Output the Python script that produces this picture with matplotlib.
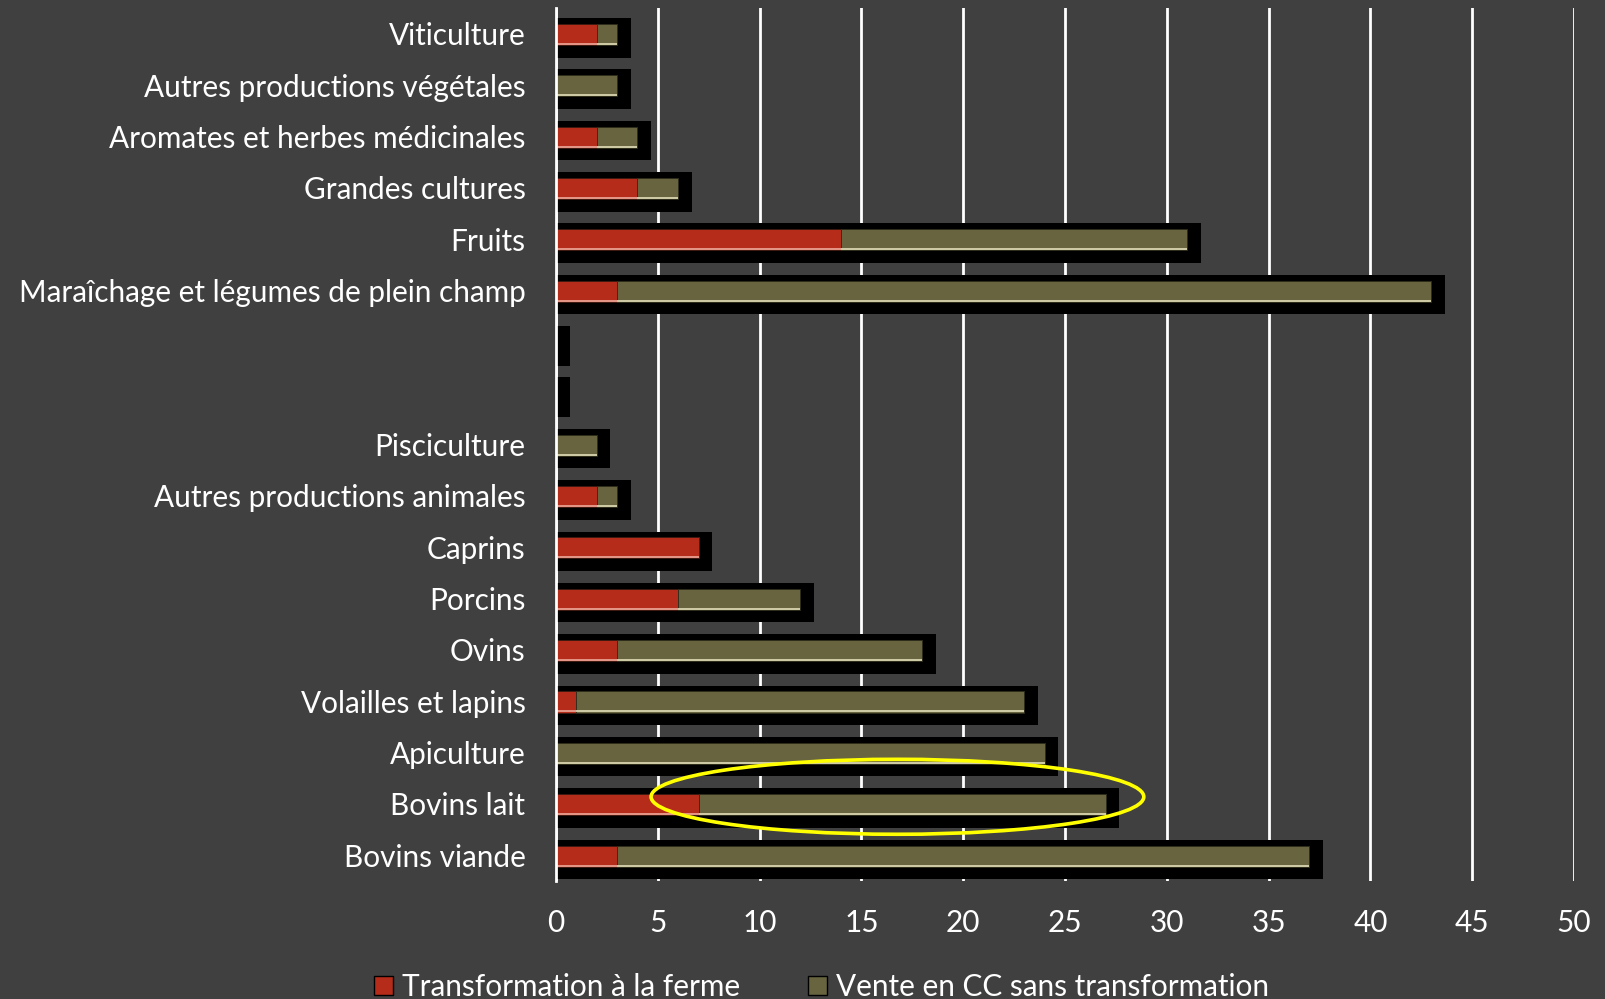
import matplotlib
matplotlib.use("Agg")
import matplotlib.pyplot as plt
from matplotlib.patches import Ellipse

# categories, top to bottom (two empty rows between the groups)
categories = ["Viticulture", "Autres productions végétales", "Aromates et herbes médicinales",
              "Grandes cultures", "Fruits", "Maraîchage et légumes de plein champ", "", "",
              "Pisciculture", "Autres productions animales", "Caprins", "Porcins", "Ovins",
              "Volailles et lapins", "Apiculture", "Bovins lait", "Bovins viande"]
transformation = [2, 0, 2, 4, 14, 3, 0, 0, 0, 2, 7, 6, 3, 1, 0, 7, 3]
vente_cc = [1, 3, 2, 2, 17, 40, 0, 0, 2, 1, 0, 6, 15, 22, 24, 20, 34]
xticks = [0, 5, 10, 15, 20, 25, 30, 35, 40, 45, 50]
series_names = ["Transformation à la ferme", "Vente en CC sans transformation"]

BG = "#404040"
RED = "#b52c1a"
OLIVE = "#67643f"
FS = 21.4

plt.rcParams["font.family"] = ["Lato", "DejaVu Sans"]

fig = plt.figure(figsize=(16.06, 9.99), dpi=100, facecolor=BG)
ax = fig.add_axes([556 / 1606, 1 - 881 / 999, (1574 - 556) / 1606, (881 - 8) / 999])
ax.set_facecolor(BG)

y = list(range(len(categories)))
totals = [a + b for a, b in zip(transformation, vente_cc)]

# black shadow bars behind the series
ax.barh([v + 0.08 for v in y], [t + 0.67 for t in totals], height=0.77,
        color="black", zorder=2)

h = 0.41
yc = [v + 0.014 for v in y]
b1 = ax.barh(yc, transformation, height=h, color=RED, edgecolor="#3a1a10",
             linewidth=0.6, zorder=3, label=series_names[0])
b2 = ax.barh(yc, vente_cc, left=transformation, height=h, color=OLIVE,
             edgecolor="#2e2d1c", linewidth=0.6, zorder=3, label=series_names[1])

# light lower edge on each segment
for yy, t, v in zip(yc, transformation, vente_cc):
    if t > 0:
        ax.hlines(yy + h / 2 - 0.02, 0, t, color="#e8a090", lw=1.3, zorder=4)
    if v > 0:
        ax.hlines(yy + h / 2 - 0.02, t, t + v, color="#d8d4b0", lw=1.3, zorder=4)

ax.set_xlim(0, 50)
ax.set_ylim(len(categories) - 0.5, -0.5)
ax.set_xticks(xticks)
ax.set_yticks(y)
ax.set_yticklabels(categories)
ax.xaxis.grid(True, color="white", lw=2, zorder=0)
ax.set_axisbelow(True)
ax.tick_params(axis="both", length=0, colors="white", labelsize=FS)
ax.tick_params(axis="y", pad=22)
ax.tick_params(axis="x", pad=20)
for s in ["top", "right", "bottom"]:
    ax.spines[s].set_visible(False)
ax.spines["left"].set_color("white")
ax.spines["left"].set_linewidth(2)
ax.spines["left"].set_zorder(5)

# highlight on Bovins lait
ell = Ellipse((16.77, 14.86), 24.2, 1.46, fill=False, edgecolor="#ffff00",
              lw=2.6, zorder=6, clip_on=False)
ax.add_patch(ell)

leg = fig.legend(handles=[b1, b2], loc="upper left", bbox_to_anchor=(362 / 1606, 1 - 961 / 999),
                 ncol=2, frameon=False, fontsize=FS, labelcolor="white",
                 handlelength=0.64, handleheight=0.64, handletextpad=0.3, columnspacing=2.28,
                 borderaxespad=0)
for p in leg.get_patches():
    p.set_edgecolor("black")
    p.set_linewidth(1)

fig.savefig("out.png", dpi=100, facecolor=BG)
